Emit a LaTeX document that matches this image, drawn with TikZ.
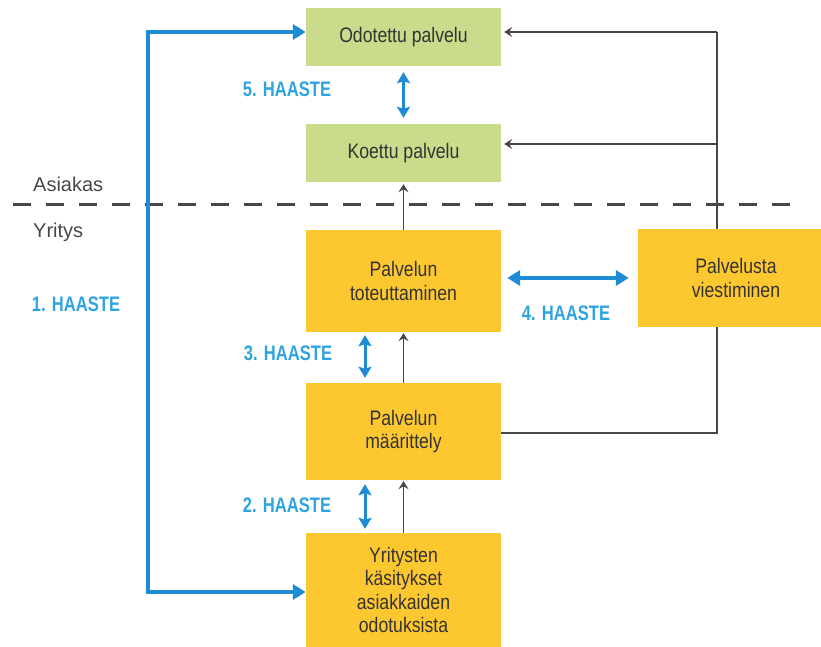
\documentclass[tikz,border=0pt]{standalone}
\usepackage{fontspec}
\setmainfont{Liberation Sans}
\newfontfamily\boxfont[FakeStretch=0.84]{Liberation Sans}
\newfontfamily\haastefont[FakeStretch=0.79]{Liberation Sans}
\usetikzlibrary{arrows.meta,calc}

\definecolor{boxgreen}{HTML}{C8DC8C}
\definecolor{boxyellow}{HTML}{FDC82F}
\definecolor{lineblue}{HTML}{1E8BD5}
\definecolor{textblue}{HTML}{2FA3DF}
\definecolor{linegray}{HTML}{464646}
\definecolor{textgray}{HTML}{333333}

\tikzset{
  box/.style={minimum width=195pt, inner sep=0pt, align=center,
    font=\boxfont\fontsize{21}{23.5}\selectfont, text=textgray},
  greenbox/.style={box, fill=boxgreen, minimum height=58pt},
  yellowbox/.style={box, fill=boxyellow},
  haaste/.style={text=textblue, inner sep=0pt,
    font=\haastefont\bfseries\fontsize{21}{24}\selectfont},
  sidelabel/.style={text=textgray!90, inner sep=0pt,
    font=\fontsize{20}{24}\selectfont},
  flowline/.style={draw=linegray, line width=1.9pt},
  grayarrow/.style={flowline, -{Stealth[length=8pt,width=10pt,inset=3pt]}},
  bigblue/.style={draw=lineblue, line width=4.5pt, line join=miter,
    {Triangle[length=13pt,width=15pt]}-{Triangle[length=13pt,width=15pt]}},
  smallblue/.style={draw=lineblue, line width=3pt,
    {Stealth[length=11pt,width=13pt,inset=2pt]}-{Stealth[length=11pt,width=13pt,inset=2pt]}},
  divider/.style={draw=linegray, line width=3pt, dash pattern=on 18pt off 15pt},
}

\begin{document}
\begin{tikzpicture}[x=1pt, y=-1pt]
  \useasboundingbox (0,0) rectangle (821,647);
  \clip (0,0) rectangle (821,647);

  % customer / company divider
  \coordinate (dl) at (13,204);
  \coordinate (dr) at (802,204);
  \draw[divider] (dl) -- (dr);
  \node[sidelabel, anchor=west] (asiakas) at (33,184) {Asiakas};
  \node[sidelabel, anchor=west] (yritys) at (33,232) {Yritys};

  % process boxes
  \node[greenbox] (odo) at (403.5,37) {Odotettu palvelu};
  \node[greenbox] (koe) at (403.5,153) {Koettu palvelu};
  \node[yellowbox, minimum height=102pt] (tot) at (403.5,281) {Palvelun\\toteuttaminen};
  \node[yellowbox, minimum height=97pt] (maar) at (403.5,431.5) {Palvelun\\määrittely};
  \node[yellowbox, minimum height=114pt] (yri) at (403.5,590) {Yritysten\\käsitykset\\asiakkaiden\\odotuksista};

  % communication feedback line on the right
  \coordinate (rt) at (717,32);
  \coordinate (rk) at (717,144);
  \coordinate (rb) at (717,433);
  \draw[flowline] (maar.east |- rb) -- (rb) -- (rt);
  \draw[grayarrow, shorten >=3pt] (rt) -- (odo.east |- rt);
  \draw[grayarrow, shorten >=3pt] (rk) -- (koe.east |- rk);

  \node[yellowbox, minimum width=196pt, minimum height=98pt] (vies) at (736,278) {Palvelusta\\viestiminen};

  % upward flow between the company boxes
  \draw[grayarrow, shorten >=2pt] (tot.north) -- (koe.south);
  \draw[grayarrow, shorten >=1pt] (maar.north) -- (tot.south);
  \draw[grayarrow, shorten >=1pt] (yri.north) -- (maar.south);

  % gap 1: company view vs. customer expectations
  \coordinate (bt) at (148,32);
  \coordinate (bl) at (148,592);
  \draw[bigblue] (odo.west |- bt) -- (bt) -- (bl) -- (yri.west |- bl);
  \node[haaste] (h1) at (76,304) {1. HAASTE};

  % gap 2
  \draw[smallblue, shorten <=4pt, shorten >=4pt]
    ([xshift=-38.5pt]yri.north) -- ([xshift=-38.5pt]maar.south);
  \node[haaste] (h2) at (287,505) {2. HAASTE};

  % gap 3
  \draw[smallblue, shorten <=5pt, shorten >=3pt]
    ([xshift=-38.5pt]maar.north) -- ([xshift=-38.5pt]tot.south);
  \node[haaste] (h3) at (288,353) {3. HAASTE};

  % gap 4
  \draw[bigblue, line width=4pt, shorten <=6pt, shorten >=9pt]
    (tot.east |- vies.west) -- (vies.west);
  \node[haaste] (h4) at (566,313) {4. HAASTE};

  % gap 5
  \draw[smallblue, shorten <=6pt, shorten >=6pt] (odo.south) -- (koe.north);
  \node[haaste] (h5) at (287,89) {5. HAASTE};
\end{tikzpicture}
\end{document}
